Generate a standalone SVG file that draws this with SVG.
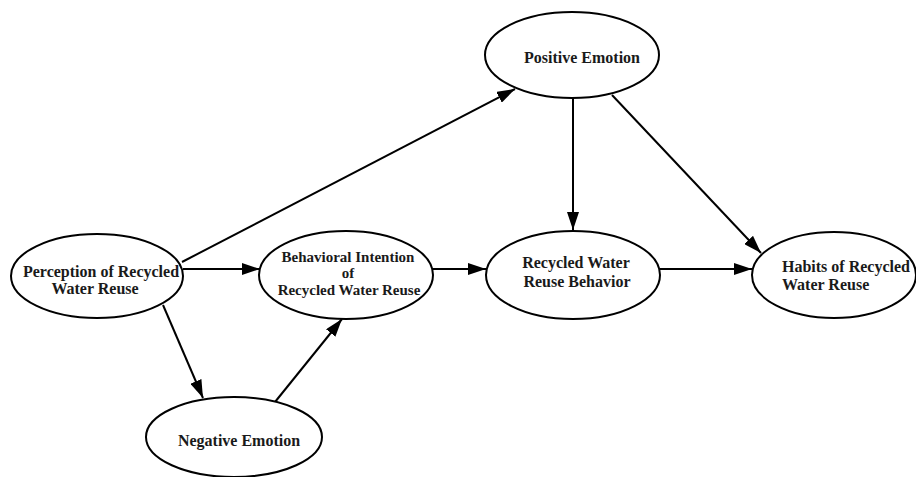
<svg xmlns="http://www.w3.org/2000/svg" width="916" height="477" viewBox="0 0 916 477">
<style>
.node ellipse{fill:#fff;stroke:#000;stroke-width:2}
.node text{font-family:"Liberation Serif","Times New Roman",serif;font-weight:bold;font-size:16px;fill:#1a1a1a;text-anchor:middle}
.edges path{fill:none;stroke:#000;stroke-width:2;marker-end:url(#ah)}
</style>
<defs>
<marker id="ah" markerUnits="userSpaceOnUse" markerWidth="18" markerHeight="12" refX="18" refY="6" orient="auto">
<path d="M0,0 L18,6 L0,12 Z" fill="#000"/>
</marker>
</defs>
<rect width="916" height="477" fill="#fff"/>
<g class="edges">
<path d="M183,269 L260,269"/>
<path d="M182,262 L515,89"/>
<path d="M163,305 L203,398"/>
<path d="M275,402 L342,319"/>
<path d="M433,269 L486,269"/>
<path d="M573,98 L573,230"/>
<path d="M612,95 L761,253"/>
<path d="M660,269 L752,269"/>
</g>
<g class="node" id="perception">
<ellipse cx="97" cy="276" rx="86" ry="42"/>
<text x="101" y="277">Perception of Recycled</text>
<text x="95" y="294">Water Reuse</text>
</g>
<g class="node" id="intention">
<ellipse cx="346" cy="275" rx="87" ry="44"/>
<text x="348" y="262" style="font-size:15px">Behavioral Intention</text>
<text x="348" y="278" style="font-size:15px">of</text>
<text x="349" y="295" style="font-size:15px">Recycled Water Reuse</text>
</g>
<g class="node" id="behavior">
<ellipse cx="573" cy="275" rx="87" ry="44"/>
<text x="576" y="268">Recycled Water</text>
<text x="577" y="287">Reuse Behavior</text>
</g>
<g class="node" id="habits">
<ellipse cx="834" cy="275" rx="82" ry="43"/>
<text x="782" y="272" style="text-anchor:start">Habits of Recycled</text>
<text x="782" y="290" style="text-anchor:start">Water Reuse</text>
</g>
<g class="node" id="positive">
<ellipse cx="572" cy="55" rx="87" ry="43"/>
<text x="582" y="63">Positive Emotion</text>
</g>
<g class="node" id="negative">
<ellipse cx="234" cy="437" rx="88" ry="40"/>
<text x="239" y="446">Negative Emotion</text>
</g>
</svg>
